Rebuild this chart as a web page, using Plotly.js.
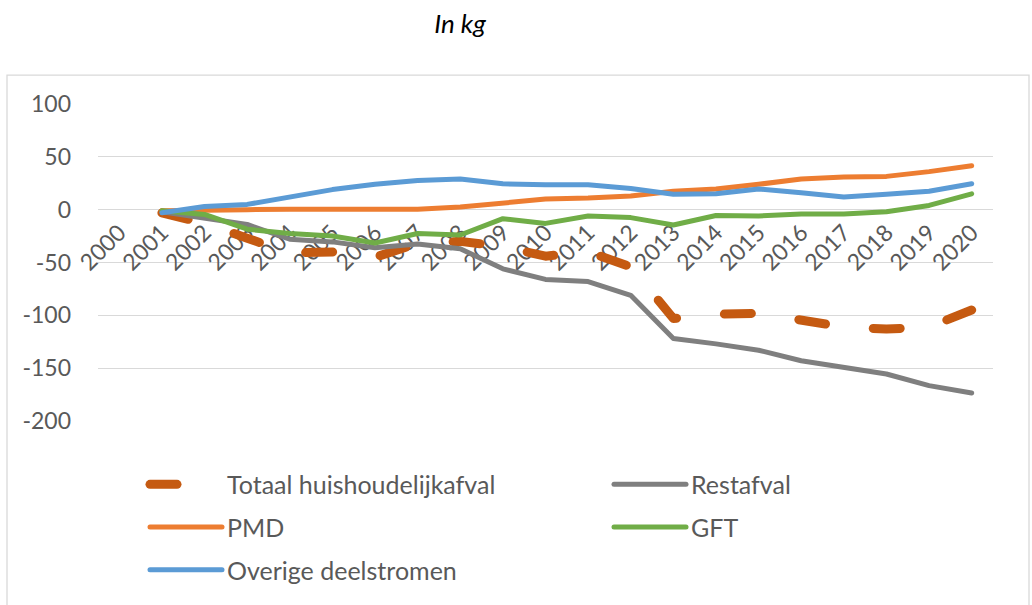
<!DOCTYPE html>
<html><head><meta charset="utf-8">
<script src="https://cdn.plot.ly/plotly-3.0.1.min.js"></script>
<style>
html,body{margin:0;padding:0;background:#fff;}
#chart{width:1032px;height:605px;}
.scatterlayer .js-line, .legendlines .js-line {stroke-linecap:round; stroke-linejoin:round;}
</style></head><body><div id="chart"></div>
<script>
const categories = ['2000','2001','2002','2003','2004','2005','2006','2007','2008','2009','2010','2011','2012','2013','2014','2015','2016','2017','2018','2019','2020'];
const years = categories.slice(1).map(Number);
const totaal    = [-3, -13, -27, -41, -40, -45, -32, -30, -35, -44, -40, -54, -103, -99, -98, -104, -111, -113, -111, -95];
const restafval = [-2, -7.5, -14, -28, -30.5, -36, -32.5, -37, -56, -66, -68, -81, -122, -127, -133, -143, -149, -155.5, -166.5, -173.5];
const pmd       = [-1, 0, 0, 0.5, 0.5, 0.5, 0.5, 2.5, 6, 10, 11, 13, 17.5, 19.5, 24, 29, 31, 31.5, 36, 41.5];
const gft       = [-1, -4.5, -18.5, -22.5, -25, -31.5, -22.5, -24, -8.5, -13, -6, -7.5, -14.5, -5.5, -6, -4, -4, -2, 4, 15];
const overige   = [-3, 3, 5, 12.5, 19, 24, 27.5, 29, 24.5, 23.5, 23.5, 20, 14.5, 15, 19.5, 16, 12, 14.5, 17.5, 24.5];
const seriesNames = ['Totaal huishoudelijkafval', 'Restafval', 'PMD', 'GFT', 'Overige deelstromen'];
const yTicks = [-200, -150, -100, -50, 0, 50, 100];

const FONT = 'Lato, "Open Sans", sans-serif';
const TXT = '#595959';

function tr(y, name, color, width, dash, legend) {
  return {x: years, y: y, name: name, type: 'scatter', mode: 'lines',
    line: {color: color, width: width, dash: dash || 'solid'}, legend: legend, hoverinfo: 'skip'};
}
const data = [
  tr(totaal, seriesNames[0], '#C55A11', 9, '27px,48px', 'legend'),
  tr(restafval, seriesNames[1], '#7F7F7F', 5, null, 'legend2'),
  tr(pmd, seriesNames[2], '#ED7D31', 5, null, 'legend3'),
  tr(gft, seriesNames[3], '#70AD47', 5, null, 'legend4'),
  tr(overige, seriesNames[4], '#5B9BD5', 5, null, 'legend5')
];

const L = 98, R = 993, T = 104, B = 423;
const W = R - L, H = B - T;
const px = X => (X - L) / W;
const py = Y => (B - Y) / H;
function leg(xl, yc) {
  return {orientation: 'h', x: px(xl), xanchor: 'left', y: py(yc), yanchor: 'middle',
    font: {family: FONT, size: 25, color: TXT}, itemwidth: 72,
    bgcolor: 'rgba(0,0,0,0)', borderwidth: 0};
}

const layout = {
  width: 1032, height: 605,
  margin: {l: L, r: 1032 - R, t: T, b: 605 - B, pad: 0},
  paper_bgcolor: '#fff', plot_bgcolor: '#fff',
  font: {family: FONT, color: TXT},
  title: {text: 'In kg', font: {family: FONT, size: 26, color: '#000', style: 'italic'},
    x: 460 / 1032, xanchor: 'center', xref: 'container', y: 1 - 24 / 605, yanchor: 'middle', yref: 'container'},
  xaxis: {type: 'linear', range: [1999.5, 2020.5], tickvals: categories.map(Number), ticktext: categories,
    tickangle: -45, tickfont: {family: FONT, size: 23, color: TXT}, anchor: 'free', position: 2 / 3,
    showgrid: false, zeroline: false, showline: false, ticks: '', layer: 'below traces', ticklabelstandoff: 4, fixedrange: true},
  yaxis: {range: [-200, 100], tickvals: yTicks, ticktext: yTicks.map(String), showgrid: true, gridcolor: '#d9d9d9', gridwidth: 1.3,
    zeroline: false, showline: false, ticks: '', tickfont: {family: FONT, size: 23, color: TXT}, ticklabelstandoff: 26, fixedrange: true},
  legend: leg(145, 487), legend2: leg(609, 487), legend3: leg(145, 530), legend4: leg(609, 530), legend5: leg(145, 573),
  shapes: [{type: 'rect', xref: 'paper', yref: 'paper', x0: px(7), x1: px(1029), y0: py(640), y1: py(75),
    line: {color: '#d9d9d9', width: 1.3}, fillcolor: 'rgba(0,0,0,0)', layer: 'below'}],
  showlegend: true
};
Plotly.newPlot('chart', data, layout, {displayModeBar: false, staticPlot: true});
</script></body></html>
